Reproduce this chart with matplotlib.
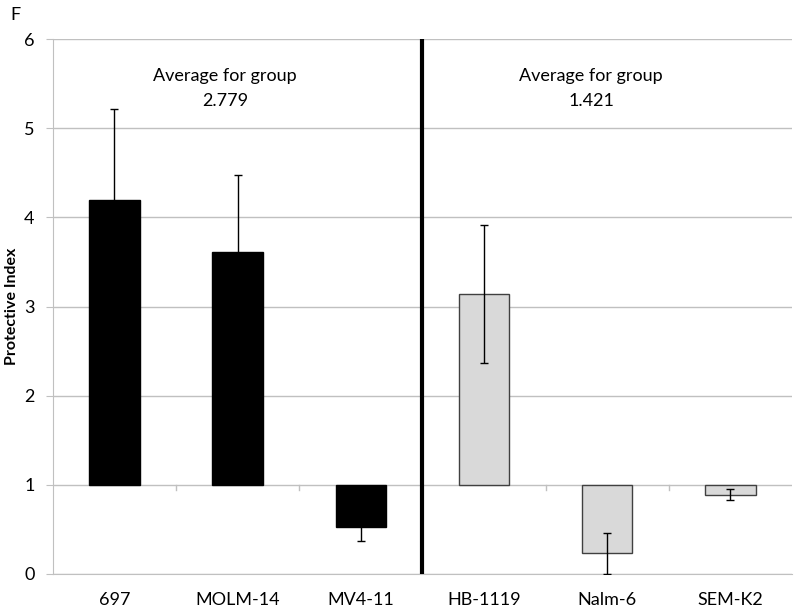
import matplotlib.pyplot as plt

# data
CELL_LINES = ["697", "MOLM-14", "MV4-11", "HB-1119", "Nalm-6", "SEM-K2"]
PROTECTIVE = [4.19, 3.61, 0.53, 3.14, 0.23, 0.89]
ERRORS     = [1.03, 0.86, 0.16, 0.77, 0.23, 0.06]
GROUP_AVGS = ["2.779", "1.421"]

BASELINE   = 1.0
BLACK      = '#000000'
LIGHT      = '#d9d9d9'
GRID       = '#c0c0c0'
FONT       = ['Lato', 'DejaVu Sans']

plt.rcParams['font.family'] = FONT

fig = plt.figure(figsize=(8, 6.11), dpi=100)
ax = fig.add_axes([0.066, 0.0606, 0.924, 0.8754])

x = list(range(len(CELL_LINES)))
colors = [BLACK] * 3 + [LIGHT] * 3
edges = [BLACK] * 3 + ['#404040'] * 3
heights = [v - BASELINE for v in PROTECTIVE]

ax.bar(x, heights, bottom=BASELINE, width=0.41, color=colors,
       edgecolor=edges, linewidth=1.0, zorder=2)
ax.errorbar(x, PROTECTIVE, yerr=ERRORS, fmt='none', ecolor='#000000',
            elinewidth=1.0, capsize=3, capthick=1.0, zorder=3)

ax.set_xlim(-0.5, len(CELL_LINES) - 0.5)
ax.set_ylim(0, 6)
ax.set_yticks(range(7))
ax.yaxis.grid(True, color=GRID, linewidth=1.0, zorder=0)
ax.set_axisbelow(True)

# category axis crosses at 1: small tick marks at group boundaries
for b in [0.5, 1.5, 3.5, 4.5]:
    ax.plot([b, b], [BASELINE, BASELINE - 0.06], color=GRID, lw=1.0, zorder=1)

# group separator
ax.axvline(2.5, color=BLACK, lw=3, zorder=4)

for s in ['top', 'right']:
    ax.spines[s].set_visible(False)
ax.spines['left'].set_color(GRID)
ax.spines['bottom'].set_color(GRID)
ax.tick_params(axis='y', length=5, color=GRID, labelsize=13, pad=8)
ax.tick_params(axis='x', length=0, labelsize=13, pad=13)
ax.set_xticks(x)
ax.set_xticklabels(CELL_LINES)
ax.set_ylabel("Protective Index", fontsize=11.5, fontweight='bold', labelpad=4)

for cx, avg in zip([0.90, 3.87], GROUP_AVGS):
    ax.text(cx, 5.59, "Average for group", ha='center', va='center', fontsize=13)
    ax.text(cx, 5.31, avg, ha='center', va='center', fontsize=13)

fig.text(0.013, 0.975, "F", fontsize=13, ha='left', va='center')

fig.savefig("out.png", dpi=100, facecolor='white')
